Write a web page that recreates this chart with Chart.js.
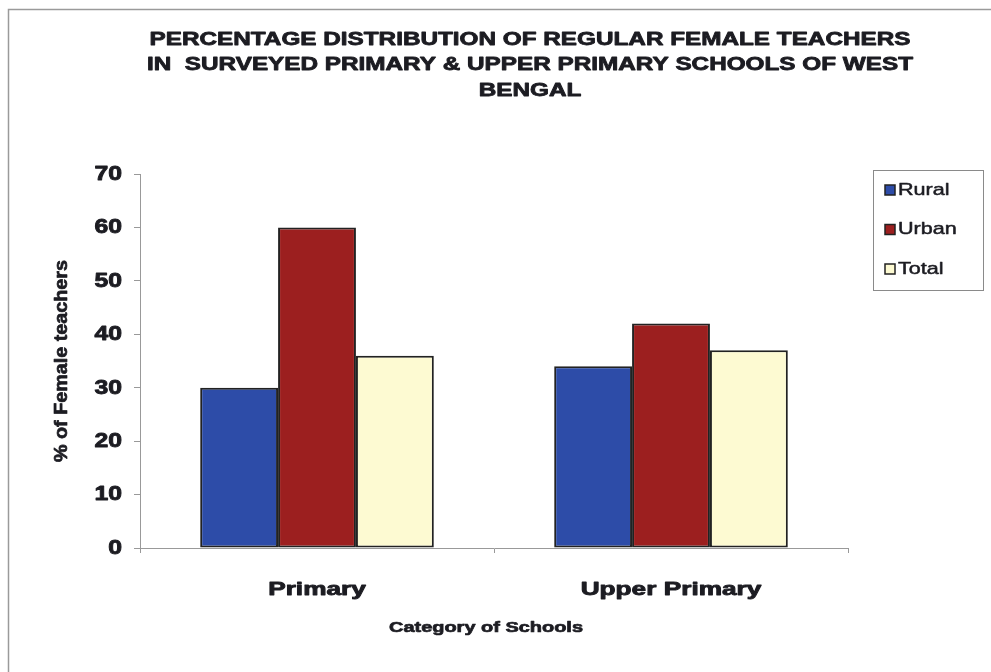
<!DOCTYPE html>
<html lang="en">
<head>
    <meta charset="utf-8" />
    <title>Female teachers - West Bengal</title>
    <script src="https://cdn.jsdelivr.net/npm/chart.js"></script>
    <style>
        html, body { margin: 0; padding: 0; background: #fff; }
        #wrap { width: 991px; height: 672px; position: relative; }
    </style>
</head>
<body>
    <div id="wrap"><canvas id="chart" width="991" height="672"></canvas></div>

    <script>
        // data
        const categories = ["Primary", "Upper Primary"];
        const rural = [30, 34];
        const urban = [60, 42];
        const total = [36, 37];
        const yTicks = [0, 10, 20, 30, 40, 50, 60, 70];
        const titleLines = [
            "PERCENTAGE DISTRIBUTION OF REGULAR FEMALE TEACHERS",
            "IN  SURVEYED PRIMARY & UPPER PRIMARY SCHOOLS OF WEST",
            "BENGAL"
        ];

        const font = "'Liberation Sans', Arial, sans-serif";
        const ink = "#1c1c22";

        // the scanned original is stretched sideways and heavy, so text is widened and stroked
        function wideText(ctx, text, x, y, size, sx, align, weight, heavy) {
            ctx.save();
            ctx.font = (weight || "bold") + " " + size + "px " + font;
            ctx.textBaseline = "middle";
            ctx.textAlign = align || "center";
            ctx.translate(x, y);
            ctx.scale(sx, 1);
            ctx.fillStyle = ink;
            ctx.fillText(text, 0, 0);
            if (heavy) {
                ctx.strokeStyle = ink;
                ctx.lineWidth = heavy;
                ctx.lineJoin = "round";
                ctx.strokeText(text, 0, 0);
            }
            ctx.restore();
        }

        // title, tick labels, axis titles, legend box and outer frame
        const extras = {
            id: "extras",
            afterDraw(chart) {
                const ctx = chart.ctx;
                const xs = chart.scales.x, ys = chart.scales.y;
                ctx.save();
                // frame
                ctx.strokeStyle = "#9a9a9a";
                ctx.lineWidth = 1.5;
                ctx.beginPath();
                ctx.moveTo(8.5, 672);
                ctx.lineTo(8.5, 9.5);
                ctx.lineTo(991, 9.5);
                ctx.stroke();

                titleLines.forEach((t, i) => wideText(ctx, t, 530, 40 + i * 25.5, 18, 1.35, "center", "bold", 0.8));

                // y tick labels
                yTicks.forEach(v => wideText(ctx, String(v), 122, ys.getPixelForValue(v), 21, 1.18, "right", "bold", 0.9));
                // x tick labels
                categories.forEach((c, i) => wideText(ctx, c, xs.getPixelForValue(i), 590, 19, 1.38, "center", "bold", 0.9));
                // axis titles
                wideText(ctx, "Category of Schools", 486, 628, 15, 1.33, "center", "bold", 0.7);
                ctx.save();
                ctx.translate(62, (ys.top + ys.bottom) / 2);
                ctx.rotate(-Math.PI / 2);
                wideText(ctx, "% of Female teachers", 0, 0, 19, 1.04, "center", "bold", 0.7);
                ctx.restore();

                // legend
                ctx.strokeStyle = "#8a8a8a";
                ctx.lineWidth = 1;
                ctx.strokeRect(873.5, 170.5, 110, 120);
                chart.data.datasets.forEach((ds, i) => {
                    const y = 190 + i * 39.5;
                    ctx.fillStyle = ds.backgroundColor;
                    ctx.fillRect(885, y - 5, 10, 10);
                    ctx.strokeStyle = "#222";
                    ctx.lineWidth = 1.5;
                    ctx.strokeRect(885, y - 5, 10, 10);
                    wideText(ctx, ds.label, 898, y, 17, 1.27, "left", "normal", 0.5);
                });
                ctx.restore();
            }
        };

        new Chart(document.getElementById("chart"), {
            type: "bar",
            data: {
                labels: categories,
                datasets: [
                    { label: "Rural", data: rural, backgroundColor: "#2d4ca8" },
                    { label: "Urban", data: urban, backgroundColor: "#9c1f1f" },
                    { label: "Total", data: total, backgroundColor: "#fdfad2" }
                ]
            },
            options: {
                responsive: false,
                animation: false,
                layout: { padding: { left: 40, right: 143, top: 174, bottom: 0 } },
                datasets: {
                    bar: {
                        borderColor: "#222",
                        borderWidth: 2,
                        borderSkipped: false,
                        categoryPercentage: 0.66,
                        barPercentage: 1.0
                    }
                },
                plugins: {
                    legend: { display: false },
                    title: { display: false },
                    tooltip: { enabled: false }
                },
                scales: {
                    x: {
                        afterFit(s) { s.height = 124; },
                        grid: { drawOnChartArea: false, color: "#999", tickLength: 5, offset: true },
                        border: { color: "#999", width: 1 },
                        ticks: { display: false }
                    },
                    y: {
                        min: 0, max: 70,
                        afterFit(s) { s.width = 100; },
                        afterBuildTicks(s) { s.ticks = yTicks.map(v => ({ value: v })); },
                        grid: { drawOnChartArea: false, color: "#999", tickLength: 6 },
                        border: { color: "#999", width: 1 },
                        ticks: { display: false }
                    }
                }
            },
            plugins: [extras]
        });
    </script>
</body>
</html>
